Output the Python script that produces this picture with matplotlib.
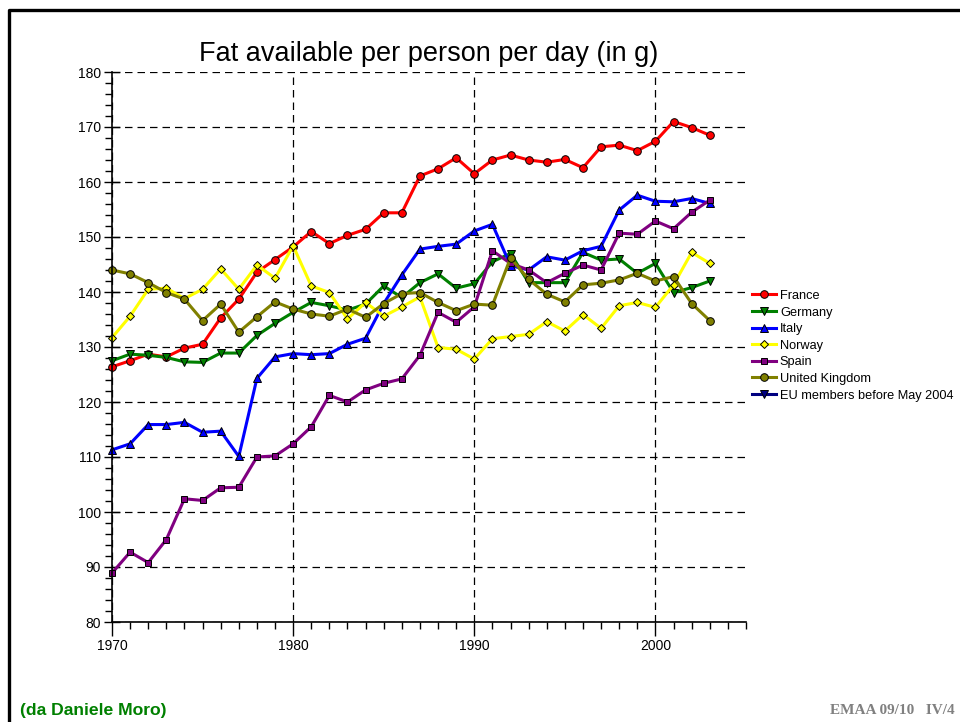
import matplotlib
matplotlib.use("Agg")
import matplotlib.pyplot as plt
from matplotlib.lines import Line2D
from matplotlib.ticker import MultipleLocator

plt.rcParams['font.family'] = ['Liberation Sans', 'DejaVu Sans']

years = list(range(1970, 2004))

france = [126.4, 127.5, 128.7, 128.2, 129.8, 130.5, 135.3, 138.7, 143.6, 145.9,
          148.2, 151.0, 148.8, 150.3, 151.4, 154.4, 154.4, 161.1, 162.4, 164.4,
          161.5, 164.0, 164.9, 164.0, 163.6, 164.1, 162.6, 166.4, 166.7, 165.7,
          167.4, 171.0, 169.9, 168.5]
germany = [127.5, 128.7, 128.5, 128.1, 127.3, 127.2, 128.9, 128.9, 132.1, 134.3,
           136.3, 138.1, 137.5, 136.7, 137.8, 141.1, 139.0, 141.7, 143.3, 140.7,
           141.5, 145.5, 147.0, 141.7, 141.7, 141.7, 147.2, 145.8, 146.0, 143.4,
           145.2, 139.9, 140.8, 142.0]
italy = [111.3, 112.4, 115.9, 115.9, 116.3, 114.5, 114.7, 110.1, 124.3, 128.2,
         128.8, 128.6, 128.8, 130.5, 131.6, 137.9, 143.1, 147.8, 148.3, 148.7,
         151.1, 152.3, 144.8, 144.0, 146.4, 145.8, 147.5, 148.3, 154.9, 157.6,
         156.5, 156.4, 157.0, 156.1]
norway = [131.7, 135.6, 140.5, 140.7, 138.8, 140.5, 144.2, 140.5, 144.9, 142.5,
          148.4, 141.1, 139.9, 135.1, 138.1, 135.6, 137.3, 139.1, 129.9, 129.6,
          127.8, 131.5, 131.9, 132.3, 134.6, 132.9, 135.9, 133.4, 137.5, 138.1,
          137.2, 141.3, 147.2, 145.2]
spain = [88.9, 92.7, 90.8, 95.0, 102.4, 102.1, 104.4, 104.5, 110.0, 110.2,
         112.4, 115.5, 121.2, 120.0, 122.2, 123.4, 124.2, 128.5, 136.3, 134.5,
         137.3, 147.5, 145.2, 144.0, 141.7, 143.4, 144.9, 144.0, 150.7, 150.5,
         152.9, 151.5, 154.5, 156.7]
uk = [144.0, 143.3, 141.7, 139.9, 138.7, 134.8, 137.8, 132.7, 135.5, 138.2,
      136.9, 136.0, 135.6, 136.9, 135.4, 137.9, 139.7, 139.9, 138.1, 136.6,
      137.8, 137.6, 146.2, 142.3, 139.6, 138.2, 141.3, 141.6, 142.2, 143.4,
      142.0, 142.8, 137.9, 134.8]
eu_years = []
eu = []

series = [
    ("France", years, france, "#ff0000", "o", 5.5),
    ("Germany", years, germany, "#008000", "v", 6),
    ("Italy", years, italy, "#0000ff", "^", 6),
    ("Norway", years, norway, "#ffff00", "D", 4.5),
    ("Spain", years, spain, "#800080", "s", 5),
    ("United Kingdom", years, uk, "#808000", "o", 5.5),
    ("EU members before May 2004", eu_years, eu, "#000080", "v", 6),
]

fig = plt.figure(figsize=(9.6, 7.22), dpi=100)
ax = fig.add_axes([112/960, 1-622/722, (746-112)/960, (622-72)/722])

for name, xs, ys, col, mk, ms in series:
    ax.plot(xs, ys, color=col, lw=2.2, marker=mk, ms=ms,
            mfc=col, mec='black', mew=0.7, label=name, clip_on=False)

ax.set_xlim(1970, 2005)
ax.set_ylim(80, 180)
ax.xaxis.set_major_locator(MultipleLocator(10))
ax.xaxis.set_minor_locator(MultipleLocator(1))
ax.yaxis.set_major_locator(MultipleLocator(10))
ax.yaxis.set_minor_locator(MultipleLocator(2))
ax.tick_params(axis='x', which='major', direction='out', length=10, width=1, labelsize=10, pad=2)
ax.tick_params(axis='x', which='minor', direction='out', length=5, width=1)
ax.tick_params(axis='y', which='major', direction='inout', length=12, width=1, labelsize=10, pad=2)
ax.tick_params(axis='y', which='minor', direction='out', length=5, width=1)
for s in ['top', 'right']:
    ax.spines[s].set_visible(False)
for s in ['left', 'bottom']:
    ax.spines[s].set_linewidth(1.2)
ax.grid(True, which='major', color='black', linestyle=(0, (6, 4)), linewidth=0.9)
ax.set_axisbelow(True)

ax.set_title("Fat available per person per day (in g)", fontsize=19.5, pad=8)

leg = ax.legend(loc='upper left', bbox_to_anchor=(0.995, 0.62), frameon=False,
                fontsize=9.2, handlelength=1.9, handletextpad=0.3,
                labelspacing=0.36, borderaxespad=0.3)

# frame
fig.add_artist(Line2D([9/960, 9/960, 1.0], [0.0, 1-10/722, 1-10/722],
                      transform=fig.transFigure, color='black', lw=2.4))

fig.text(20/960, 1-711/722, "(da Daniele Moro)", color='#008000', fontsize=12.6,
         fontweight='bold', va='center', ha='left')
fig.text(955/960, 1-711/722, "EMAA 09/10   IV/4", color='#808080', fontsize=11,
         fontweight='bold', va='center', ha='right', family=['Liberation Serif', 'DejaVu Serif'])

fig.savefig("out.png", dpi=100)
